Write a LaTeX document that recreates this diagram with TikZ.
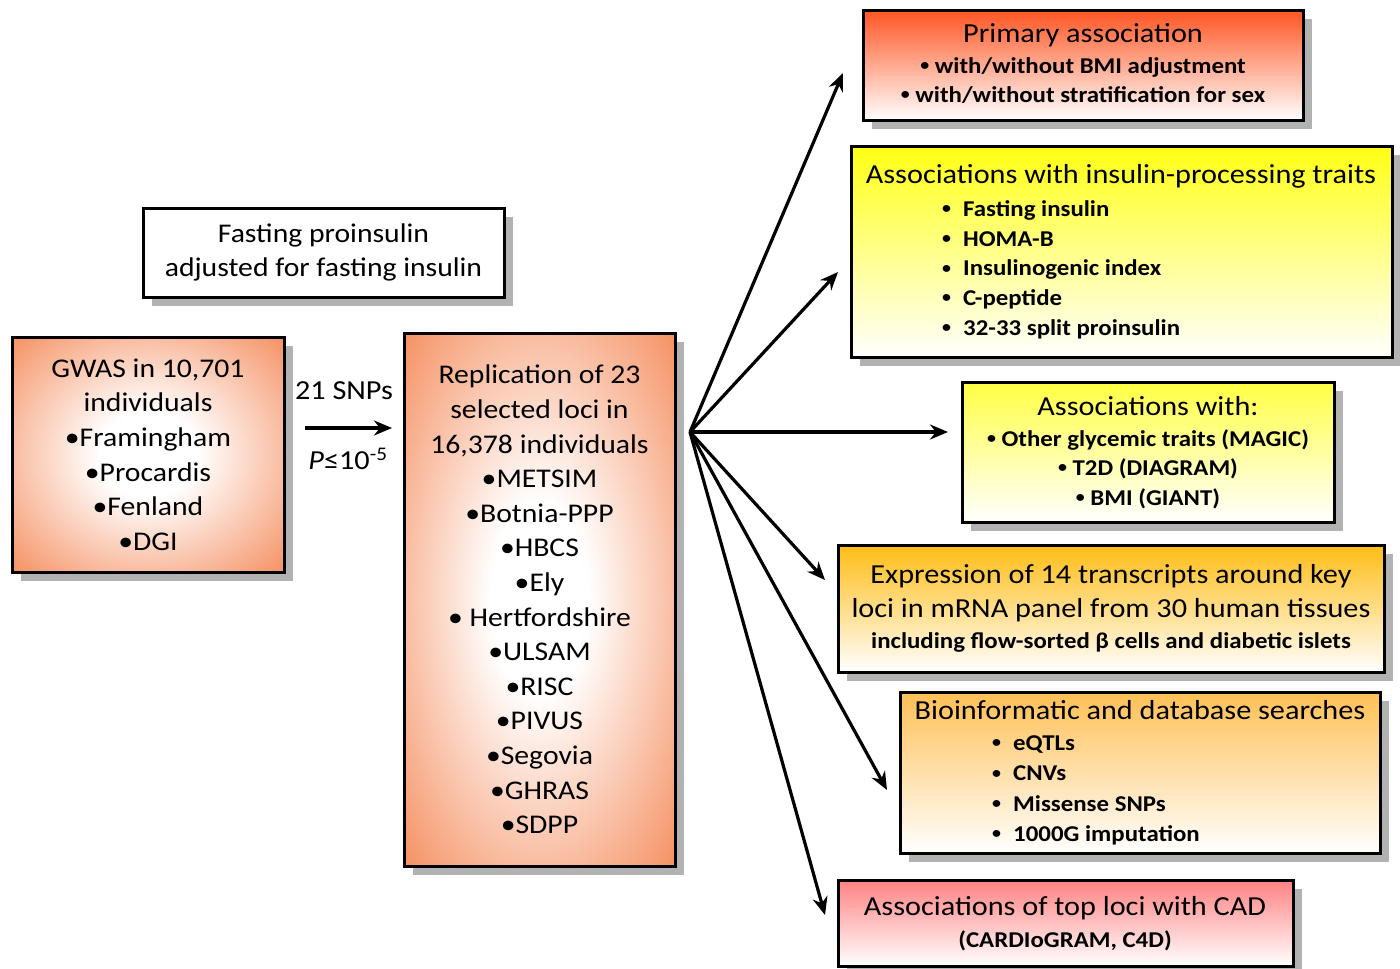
\documentclass[tikz,border=0pt]{standalone}
\usepackage{fontspec}
\setmainfont{Carlito}[FakeStretch=1.1]
\usepackage{xcolor}
\usepackage{graphicx}
\usepackage{tikz}
\usetikzlibrary{shadows,arrows.meta}

\definecolor{orng}{RGB}{244,134,84}
\definecolor{redtop}{RGB}{255,85,35}
\definecolor{yeltop}{RGB}{255,255,20}
\definecolor{goldtop}{RGB}{255,188,20}
\definecolor{aprtop}{RGB}{255,192,85}
\definecolor{pinktop}{RGB}{255,130,130}
\pgfdeclareradialshading{glow}{\pgfpoint{0bp}{0bp}}{color(0bp)=(white); color(9bp)=(white); color(38bp)=(orng); color(50bp)=(orng)}
\newcommand{\smbul}{\raisebox{0.12em}{\scalebox{0.72}{•}}}

\begin{document}
\begin{tikzpicture}[x=1pt,y=-1pt,
  box/.style={draw, line width=3pt, inner sep=0pt, drop shadow={shadow xshift=9pt, shadow yshift=-9pt, fill=black!30, opacity=1}},
  big/.style={font=\fontsize{27}{34.6}\selectfont, align=center},
  hd/.style={font=\fontsize{27.5}{30}\selectfont, inner sep=0pt, text height=19pt, text depth=6pt},
  it/.style={font=\bfseries\fontsize{22.6}{26}\selectfont, inner sep=0pt, text height=15.5pt, text depth=4.5pt},
  arr/.style={line width=3.2pt, -{Stealth[length=18pt,width=15pt]}}]
\path[use as bounding box, fill=white] (0,0) rectangle (1400,969);

\node[box, fill=white, big, minimum width=361pt, minimum height=89pt] (fast) at (323.5,252.5) {Fasting proinsulin\\adjusted for fasting insulin};
\node[box, shading=glow, big, minimum width=272pt, minimum height=235pt] (gwas) at (148,454.5) {GWAS in 10,701\\individuals\\•Framingham\\•Procardis\\•Fenland\\•DGI};
\node[box, shading=glow, big, minimum width=271pt, minimum height=533pt] (repl) at (539.5,599.5) {Replication of 23\\selected loci in\\16,378 individuals\\•METSIM\\•Botnia-PPP\\•HBCS\\•Ely\\• Hertfordshire\\•ULSAM\\•RISC\\•PIVUS\\•Segovia\\•GHRAS\\•SDPP};

\coordinate (a0) at (305,428);
\coordinate (a1) at (392,428);
\draw[arr] (a0) -- (a1);
\node[hd] (snp) at (344,393) {21 SNPs};
\node[hd] (pval) at (348,463) {\textit{P}≤10\textsuperscript{-5}};

\node[box, top color=redtop, bottom color=white, minimum width=440pt, minimum height=110pt] (prim) at (1083,65) {};
\node[hd] (primt) at (1083,36) {Primary association};
\node[it] (prim1) at (1083,68) {\smbul{} with/without BMI adjustment};
\node[it] (prim2) at (1083,97) {\smbul{} with/without stratification for sex};

\node[box, top color=yeltop, bottom color=white, minimum width=541pt, minimum height=211pt] (ins) at (1121.5,251.5) {};
\node[hd] (inst) at (1121,177) {Associations with insulin-processing traits};
\foreach \s [count=\i] in {Fasting insulin, HOMA-B, Insulinogenic index, C-peptide, 32-33 split proinsulin}
  \node[it, anchor=west] (ins\i) at (942,181+29.8*\i) {\makebox[21pt][l]{\smbul}\s};

\node[box, top color=yeltop!80, bottom color=white, minimum width=372pt, minimum height=140pt] (assoc) at (1148,452) {};
\node[hd] (assoct) at (1148,409) {Associations with:};
\node[it] (assoc1) at (1148,441) {\smbul{} Other glycemic traits (MAGIC)};
\node[it] (assoc2) at (1148,470) {\smbul{} T2D (DIAGRAM)};
\node[it] (assoc3) at (1148,500) {\smbul{} BMI (GIANT)};

\node[box, top color=goldtop, bottom color=white, minimum width=546pt, minimum height=127pt] (expr) at (1111,608.5) {};
\node[hd] (expr1) at (1111,577) {Expression of 14 transcripts around key};
\node[hd] (expr2) at (1111,611) {loci in mRNA panel from 30 human tissues};
\node[it] (expr3) at (1111,643) {including flow-sorted β cells and diabetic islets};

\node[box, top color=aprtop, bottom color=white, minimum width=480pt, minimum height=161pt] (bio) at (1140,772.5) {};
\node[hd] (biot) at (1140,713) {Bioinformatic and database searches};
\foreach \s [count=\i] in {eQTLs, CNVs, Missense SNPs, 1000G imputation}
  \node[it, anchor=west] (bio\i) at (992,715+30.2*\i) {\makebox[21pt][l]{\smbul}\s};

\node[box, top color=pinktop, bottom color=white, minimum width=455pt, minimum height=86pt] (cad) at (1065.5,923) {};
\node[hd] (cadt) at (1065,909) {Associations of top loci with CAD};
\node[it] (cad1) at (1065,942) {(CARDIoGRAM, C4D)};

\coordinate (hub) at (690,432);
\foreach \n/\x/\y in {t1/843/73, t2/838/272, t3/948/432, t4/825/580, t5/887/790, t6/825/915} {
  \coordinate (\n) at (\x,\y);
  \draw[arr] (hub) -- (\n);
}
\end{tikzpicture}
\end{document}
